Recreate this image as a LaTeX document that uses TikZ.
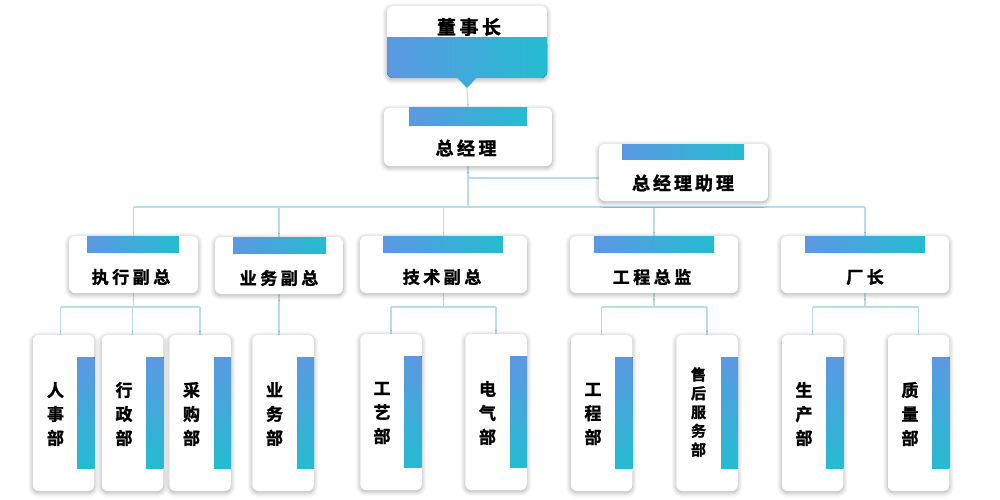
\documentclass[tikz,border=0pt]{standalone}
\usepackage{fontspec}
\newfontfamily\cjk{Noto Sans CJK SC}[BoldFont={Noto Sans CJK SC Bold}, BoldFeatures={FakeBold=1.6}]
\usetikzlibrary{shadows.blur,backgrounds}
\definecolor{gA}{RGB}{92,152,226}
\definecolor{gB}{RGB}{36,188,208}
\definecolor{gM}{RGB}{62,172,218}
\definecolor{lineC}{RGB}{184,222,236}
\newcommand\ks{\kern3.5pt}
\begin{document}
\begin{tikzpicture}[x=1pt,y=-1pt,
 box/.style={draw=none, fill=white, rounded corners=6pt, inner sep=0pt,
   blur shadow={shadow blur steps=10, shadow xshift=0pt, shadow yshift=-1.5pt, shadow blur radius=5pt, shadow opacity=34}},
 lbox/.style={box, minimum width=#1, minimum height=57pt},
 vbox/.style={box, minimum width=61.5pt, minimum height=156pt},
 conn/.style={draw=lineC, line width=1.1pt},
 hbar/.style={left color=gA, right color=gB},
 vbar/.style={top color=gA, bottom color=gB},
 ttl/.style={font=\cjk\bfseries\fontsize{19}{19}\selectfont, inner sep=0pt},
 txt/.style={font=\cjk\bfseries\fontsize{17}{17}\selectfont, inner sep=0pt},
 vtxt/.style={font=\cjk\bfseries\fontsize{17}{24}\selectfont, align=center, inner sep=0pt},
 vtxts/.style={font=\cjk\bfseries\fontsize{15}{18.8}\selectfont, align=center, inner sep=0pt},
]
\useasboundingbox (0,0) rectangle (1000,500);

% ---- top: chairman
\node[box, minimum width=160pt, minimum height=72pt] (dsz) at (467,42) {};
\fill[hbar, rounded corners=6pt] (387,38) rectangle (547,78);
\fill[hbar] (387,38) rectangle (547,50);
\fill[gM] (457,77.5) -- (477,77.5) -- (467,88) -- cycle;
\coordinate (dtip) at (467,88);
\node[ttl] (dszt) at (469,27) {董\ks 事\ks 长};

% ---- general manager
\node[box, minimum width=168pt, minimum height=58pt] (zjl) at (468,137) {};
\fill[hbar] (409,108) rectangle (527,125);
\node[ttl, font=\cjk\bfseries\fontsize{18}{18}\selectfont] (zjlt) at (466,148) {总\ks 经\ks 理};

% ---- assistant
\node[box, minimum width=169pt, minimum height=57pt] (zl) at (683.5,172.5) {};
\fill[hbar] (622,144) rectangle (744,159);
\node[ttl, font=\cjk\bfseries\fontsize{18}{18}\selectfont] (zlt) at (683,183) {总\kern3pt 经\kern3pt 理\kern3pt 助\kern3pt 理};

% ---- level 2
\node[lbox=129pt] (zxfz) at (133.5,264.5) {};
\fill[hbar] (87,236) rectangle (179,252);
\node[txt] (zxfzt) at (131,277) {执\ks 行\ks 副\ks 总};

\node[lbox=128pt] (ywfz) at (279,265.5) {};
\fill[hbar] (233,237) rectangle (326,253);
\node[txt] (ywfzt) at (279,278) {业\ks 务\ks 副\ks 总};

\node[lbox=167pt] (jsfz) at (443.5,264.5) {};
\fill[hbar] (383,236) rectangle (503,252);
\node[txt] (jsfzt) at (442,277) {技\ks 术\ks 副\ks 总};

\node[lbox=168pt] (gczj) at (654,264.5) {};
\fill[hbar] (594,236) rectangle (714,252);
\node[txt] (gczjt) at (652,277) {工\ks 程\ks 总\ks 监};

\node[lbox=168pt] (cz) at (865,264.5) {};
\fill[hbar] (805,236) rectangle (925,252);
\node[txt] (czt) at (865,277) {厂\ks 长};

% ---- level 3
\node[vbox] (rsb) at (63.5,413) {};
\fill[vbar] (77,357) rectangle (94.5,468);
\node[vtxt] (rsbt) at (55.5,414) {人\\事\\部};

\node[vbox] (xzb) at (132.5,413) {};
\fill[vbar] (146,357) rectangle (163.5,468);
\node[vtxt] (xzbt) at (124,414) {行\\政\\部};

\node[vbox] (cgb) at (200,413) {};
\fill[vbar] (214,357) rectangle (231,468);
\node[vtxt] (cgbt) at (191.5,414) {采\\购\\部};

\node[vbox] (ywb) at (283,413) {};
\fill[vbar] (297,357) rectangle (314,468);
\node[vtxt] (ywbt) at (274.5,414) {业\\务\\部};

\node[vbox] (gyb) at (391,412) {};
\fill[vbar] (404,356) rectangle (421.5,467);
\node[vtxt] (gybt) at (382,413) {工\\艺\\部};

\node[vbox] (dqb) at (496,412) {};
\fill[vbar] (510,356) rectangle (527,467);
\node[vtxt] (dqbt) at (487.5,413) {电\\气\\部};

\node[vbox] (gcb) at (601.5,413) {};
\fill[vbar] (615,357) rectangle (632.5,468);
\node[vtxt] (gcbt) at (593,414) {工\\程\\部};

\node[vbox] (shb) at (707,413) {};
\fill[vbar] (721,357) rectangle (738,468);
\node[vtxts] (shbt) at (698.5,412) {售\\后\\服\\务\\部};

\node[vbox] (scb) at (812.5,413) {};
\fill[vbar] (826,357) rectangle (843.5,468);
\node[vtxt] (scbt) at (804,414) {生\\产\\部};

\node[vbox] (zlb) at (918.5,413) {};
\fill[vbar] (932,357) rectangle (949.5,468);
\node[vtxt] (zlbt) at (910,414) {质\\量\\部};

% ---- connectors
\coordinate (bus) at (0,207);
\coordinate (bus2) at (0,307);
\coordinate (zlin) at ([yshift=-5.5pt]zl.west);
\begin{scope}[on background layer]
\draw[conn] (dtip) -- (zjl.north);
\draw[conn] (zjl.south) -- (zjl.south |- bus);
\draw[conn] (zjl.south |- zlin) -- (zlin);
\draw[conn] (zxfz.north |- bus) -- (cz.north |- bus);
\foreach \n in {zxfz,ywfz,jsfz,gczj,cz} \draw[conn] (\n.north) -- (\n.north |- bus);
% executive VP
\draw[conn] (zxfz.south) -- (zxfz.south |- bus2);
\draw[conn] ([xshift=-3pt]rsb.north |- bus2) -- (cgb.north |- bus2);
\draw[conn] ([xshift=-3pt]rsb.north) -- ([xshift=-3pt]rsb.north |- bus2);
\draw[conn] (xzb.north) -- (xzb.north |- bus2);
\draw[conn] (cgb.north) -- (cgb.north |- bus2);
% business VP
\draw[conn] (ywfz.south) -- (ywfz.south |- ywb.north);
% tech VP
\draw[conn] (jsfz.south) -- (jsfz.south |- bus2);
\draw[conn] (gyb.north |- bus2) -- (dqb.north |- bus2);
\draw[conn] (gyb.north) -- (gyb.north |- bus2);
\draw[conn] (dqb.north) -- (dqb.north |- bus2);
% engineering director
\draw[conn] (gczj.south) -- (gczj.south |- bus2);
\draw[conn] (gcb.north |- bus2) -- (shb.north |- bus2);
\draw[conn] (gcb.north) -- (gcb.north |- bus2);
\draw[conn] (shb.north) -- (shb.north |- bus2);
% factory director
\draw[conn] (cz.south) -- (cz.south |- bus2);
\draw[conn] (scb.north |- bus2) -- (zlb.north |- bus2);
\draw[conn] (scb.north) -- (scb.north |- bus2);
\draw[conn] (zlb.north) -- (zlb.north |- bus2);
\end{scope}
\end{tikzpicture}
\end{document}
